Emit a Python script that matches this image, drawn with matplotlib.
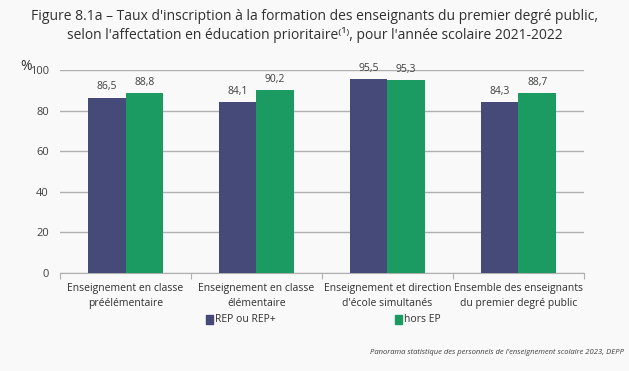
import numpy as np
import matplotlib.pyplot as plt
from matplotlib.patches import Rectangle

plt.rcParams["font.family"] = ["Open Sans", "DejaVu Sans"]

categories = [
    "Enseignement en classe\npréélémentaire",
    "Enseignement en classe\nélémentaire",
    "Enseignement et direction\nd'école simultanés",
    "Ensemble des enseignants\ndu premier degré public",
]
rep = [86.5, 84.1, 95.5, 84.3]
hors_ep = [88.8, 90.2, 95.3, 88.7]
series_names = ["REP ou REP+", "hors EP"]
colors = ["#464a78", "#1b9b62"]
bg = "#f9f9f9"

fig = plt.figure(figsize=(6.29, 3.71), dpi=100, facecolor=bg)
ax = fig.add_axes([0.0954, 0.264, 0.833, 0.547], facecolor=bg)

x = np.arange(len(categories))
w = 0.285
b1 = ax.bar(x - w / 2, rep, w, color=colors[0], zorder=3)
b2 = ax.bar(x + w / 2, hors_ep, w, color=colors[1], zorder=3)

# value labels
for bars, vals in [(b1, rep), (b2, hors_ep)]:
    for r, v in zip(bars, vals):
        ax.text(r.get_x() + r.get_width() / 2, v + 2.5, f"{v:.1f}".replace(".", ","),
                ha="center", va="bottom", fontsize=7.5, color="#404040", zorder=4)

ax.set_ylim(0, 100)
ax.set_xlim(-0.5, len(categories) - 0.5)
ax.set_yticks(range(0, 101, 20))
ax.grid(axis="y", color="#b0b0b0", linewidth=1, zorder=0)
ax.tick_params(axis="y", length=0, labelsize=8, colors="#404040", pad=8)
for s in ["left", "right", "top"]:
    ax.spines[s].set_visible(False)
ax.spines["bottom"].set_color("#b0b0b0")

# categories between ticks
ax.set_xticks(np.arange(-0.5, len(categories), 1))
ax.set_xticklabels([])
ax.tick_params(axis="x", length=4, color="#b0b0b0")
for i, c in enumerate(categories):
    ax.text(i, -5, c, ha="center", va="top", fontsize=7.5, color="#303030",
            transform=ax.transData, linespacing=1.5)

fig.text(0.032, 0.822, "%", fontsize=10, color="#303030", va="center")

# title
fig.text(0.5, 0.975,
         "Figure 8.1a – Taux d'inscription à la formation des enseignants du premier degré public,\n"
         "selon l'affectation en éducation prioritaire⁽¹⁾, pour l'année scolaire 2021-2022",
         ha="center", va="top", fontsize=10, color="#303030", linespacing=1.25)

# legend
for name, col, lx in zip(series_names, colors, [0.327, 0.628]):
    fig.patches.append(Rectangle((lx, 0.128), 0.011, 0.022, transform=fig.transFigure,
                                 color=col, figure=fig))
    fig.text(lx + 0.015, 0.139, name, fontsize=7.5, va="center", color="#303030")

fig.text(0.992, 0.05, "Panorama statistique des personnels de l'enseignement scolaire 2023, DEPP",
         ha="right", va="center", fontsize=5.5, style="italic", color="#404040")

fig.savefig("out.png", dpi=100, facecolor=bg)
